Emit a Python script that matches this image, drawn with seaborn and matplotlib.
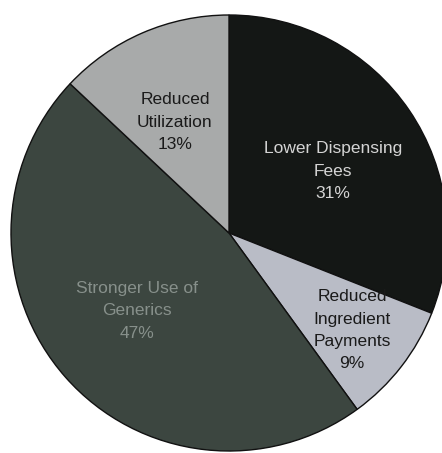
import numpy as np
import matplotlib
matplotlib.use("Agg")
import matplotlib.pyplot as plt
import seaborn as sns

# Savings by source, clockwise from 12 o'clock
categories = ["Lower Dispensing\nFees", "Reduced\nIngredient\nPayments",
              "Stronger Use of\nGenerics", "Reduced\nUtilization"]
shares = [31, 9, 47, 13]

colors = ["#141715", "#b9bcc6", "#3c4640", "#a8aaaa"]
text_colors = ["#d4d4d4", "#1a1a1a", "#87908b", "#1a1a1a"]
label_dist = [0.555, 0.72, 0.553, 0.566]
label_turn = [-3.4, -0.5, -1.1, 2.6]   # degrees, nudges labels off the wedge bisector

sns.set_theme(style="white")
plt.rcParams["font.family"] = ["Liberation Sans", "DejaVu Sans"]

W, H = 442, 453
fig = plt.figure(figsize=(W / 100, H / 100), dpi=100)
ax = fig.add_axes([0, 0, 1, 1])

cx, cy, r = 229, H - 233, 218
wedges, _ = ax.pie(shares, colors=colors, startangle=90, counterclock=False,
                   center=(cx, cy), radius=r, frame=True,
                   wedgeprops=dict(edgecolor="#111111", linewidth=1.0))
ax.set_xlim(0, W)
ax.set_ylim(0, H)
ax.set_aspect("equal")
ax.axis("off")

for w, cat, val, tc, d, t in zip(wedges, categories, shares, text_colors,
                                 label_dist, label_turn):
    mid = np.deg2rad((w.theta1 + w.theta2) / 2 + t)
    x = cx + d * r * np.cos(mid)
    y = cy + d * r * np.sin(mid)
    ax.text(x, y, f"{cat}\n{val}%", ha="center", va="center",
            fontsize=12.5, color=tc, linespacing=1.62)

fig.savefig("out.png", dpi=100, facecolor="white")
